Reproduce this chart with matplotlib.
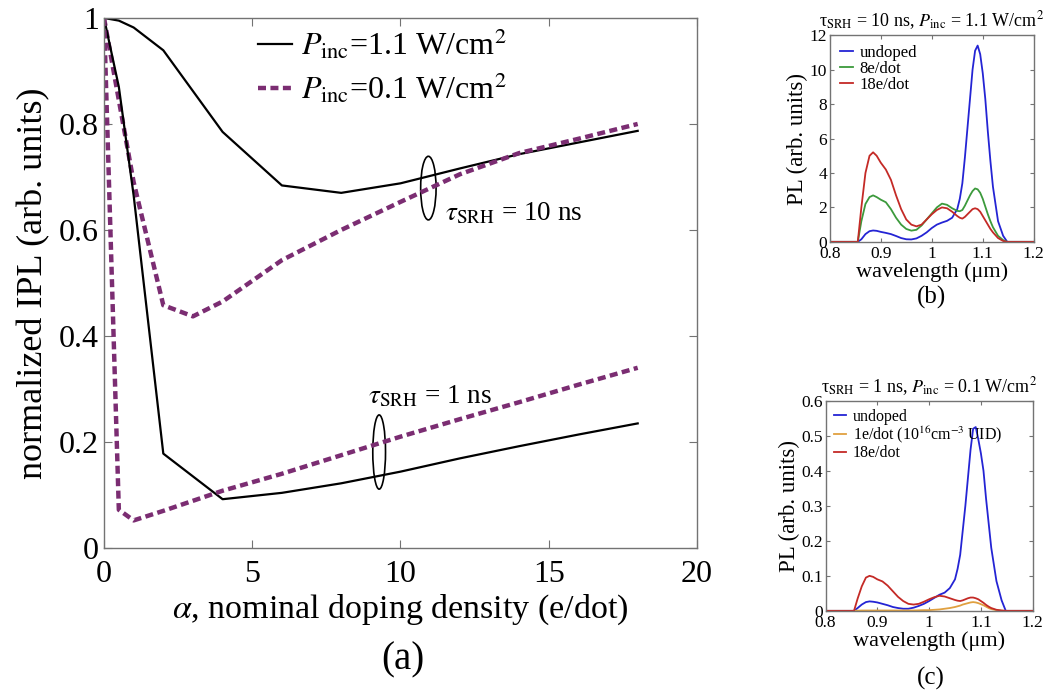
import matplotlib
matplotlib.use("Agg")
import matplotlib.pyplot as plt
from matplotlib.patches import Ellipse

plt.rcParams["font.family"] = ["Liberation Serif", "DejaVu Serif"]
plt.rcParams["mathtext.fontset"] = "stix"

# (a) 归一化积分 PL 随掺杂密度变化
alpha = [0, 0.5, 1, 2, 3, 4, 6, 8, 10, 12, 14, 16, 18]
ipl_10ns_high = [1, 0.995, 0.982, 0.939, 0.862, 0.785, 0.684, 0.67, 0.688, 0.716, 0.743, 0.765, 0.787]
ipl_10ns_low = [1, 0.845, 0.69, 0.458, 0.437, 0.465, 0.543, 0.6, 0.653, 0.705, 0.745, 0.772, 0.80]
ipl_1ns_high = [1, 0.87, 0.665, 0.178, 0.135, 0.092, 0.104, 0.122, 0.144, 0.169, 0.192, 0.214, 0.235]
ipl_1ns_low = [1, 0.072, 0.052, 0.07, 0.089, 0.108, 0.14, 0.175, 0.21, 0.243, 0.275, 0.308, 0.34]

# (b)/(c) PL 光谱
wavelength = [0.80, 0.85, 0.855, 0.862, 0.87, 0.878, 0.885, 0.892, 0.90, 0.91, 0.92, 0.93, 0.94,
              0.95, 0.96, 0.97, 0.98, 0.99, 1.00, 1.01, 1.02, 1.03, 1.04, 1.05, 1.055, 1.06, 1.065,
              1.07, 1.075, 1.08, 1.085, 1.09, 1.095, 1.10, 1.105, 1.11, 1.115, 1.12, 1.13, 1.14,
              1.148, 1.16, 1.20]
pl_b_undoped = [0, 0, 0, 0.15, 0.45, 0.62, 0.66, 0.64, 0.58, 0.52, 0.45, 0.34, 0.22,
                0.15, 0.14, 0.2, 0.35, 0.55, 0.8, 1.0, 1.12, 1.22, 1.4, 1.9, 2.5, 3.4, 4.9,
                6.6, 8.3, 10.0, 11.1, 11.4, 10.9, 9.8, 8.3, 6.4, 4.7, 3.2, 1.2, 0.35,
                0, 0, 0]
pl_b_8e = [0, 0, 0, 1.2, 2.2, 2.6, 2.7, 2.6, 2.45, 2.3, 1.9, 1.4, 1.0,
           0.75, 0.65, 0.7, 0.95, 1.3, 1.65, 2.0, 2.22, 2.15, 1.95, 1.8, 1.78, 1.85, 2.1,
           2.4, 2.7, 2.95, 3.1, 3.05, 2.85, 2.5, 2.05, 1.6, 1.2, 0.85, 0.35, 0.1,
           0, 0, 0]
pl_b_18e = [0, 0, 0, 2.0, 4.0, 5.0, 5.2, 5.0, 4.6, 4.2, 3.6, 2.7, 1.9,
            1.3, 1.0, 0.9, 1.0, 1.3, 1.6, 1.85, 2.0, 1.95, 1.75, 1.5, 1.4, 1.35, 1.45,
            1.6, 1.75, 1.9, 1.95, 1.9, 1.75, 1.5, 1.25, 1.0, 0.75, 0.55, 0.22, 0.05,
            0, 0, 0]
pl_c_undoped = [0, 0, 0, 0.008, 0.018, 0.025, 0.027, 0.026, 0.024, 0.02, 0.016, 0.011, 0.008,
                0.006, 0.006, 0.009, 0.014, 0.02, 0.028, 0.037, 0.046, 0.052, 0.065, 0.09, 0.12, 0.16, 0.23,
                0.3, 0.38, 0.46, 0.52, 0.525, 0.49, 0.45, 0.40, 0.32, 0.25, 0.18, 0.085, 0.03,
                0, 0, 0]
pl_c_1e = [0, 0, 0, 0.0005, 0.001, 0.001, 0.001, 0.001, 0.001, 0.001, 0.001, 0.001, 0.001,
           0.001, 0.001, 0.001, 0.0015, 0.002, 0.002, 0.003, 0.004, 0.006, 0.008, 0.011, 0.013, 0.015, 0.018,
           0.02, 0.022, 0.024, 0.025, 0.024, 0.022, 0.019, 0.016, 0.012, 0.008, 0.005, 0.002, 0.0005,
           0, 0, 0]
pl_c_18e = [0, 0, 0, 0.035, 0.07, 0.095, 0.1, 0.097, 0.09, 0.084, 0.072, 0.056, 0.04,
            0.028, 0.02, 0.018, 0.02, 0.026, 0.033, 0.039, 0.043, 0.041, 0.036, 0.031, 0.029, 0.028, 0.03,
            0.033, 0.036, 0.038, 0.038, 0.036, 0.033, 0.028, 0.023, 0.017, 0.012, 0.008, 0.003, 0.001,
            0, 0, 0]

purple = "#7b2d72"
blue = "#2424d4"
green = "#3c9a3c"
red = "#c42a26"
orange = "#e0a040"
spine_gray = "0.45"


def matlab_box(ax, tick_len):
    for s in ax.spines.values():
        s.set_color(spine_gray)
        s.set_linewidth(1.0)
    ax.tick_params(direction="in", top=True, right=True, length=tick_len,
                   color=spine_gray, width=0.8)


fig = plt.figure(figsize=(10.57, 6.91), dpi=100)

# ---- (a) ----
ax = fig.add_axes([0.0984, 0.207, 0.561, 0.767])
ax.plot(alpha, ipl_10ns_high, color="black", lw=1.6, label=r"$P_{\mathrm{inc}}$=1.1 W/cm$^2$")
ax.plot(alpha, ipl_10ns_low, color=purple, lw=3.2, dashes=(1.8, 1.0), label=r"$P_{\mathrm{inc}}$=0.1 W/cm$^2$")
ax.plot(alpha, ipl_1ns_high, color="black", lw=1.6)
ax.plot(alpha, ipl_1ns_low, color=purple, lw=3.2, dashes=(1.8, 1.0))
ax.add_patch(Ellipse((10.94, 0.679), 0.52, 0.12, fill=False, ec="black", lw=1.2))
ax.add_patch(Ellipse((9.28, 0.181), 0.43, 0.14, fill=False, ec="black", lw=1.2))
ax.text(11.5, 0.63, r"$\tau_{\mathrm{SRH}}$ = 10 ns", fontsize=19.5, va="center")
ax.text(8.9, 0.285, r"$\tau_{\mathrm{SRH}}$ = 1 ns", fontsize=19.5, va="center")
ax.set_xlim(0, 20)
ax.set_ylim(0, 1)
ax.set_xticks([0, 5, 10, 15, 20])
ax.set_yticks([0, 0.2, 0.4, 0.6, 0.8, 1])
ax.set_yticklabels(["0", "0.2", "0.4", "0.6", "0.8", "1"])
ax.tick_params(labelsize=23)
matlab_box(ax, 6)
ax.tick_params(axis="x", pad=9)
ax.set_xlabel(r"$\alpha$, nominal doping density (e/dot)", fontsize=24.5, labelpad=2)
ax.set_ylabel("normalized IPL (arb. units)", fontsize=26, labelpad=6)
ax.legend(loc="upper left", bbox_to_anchor=(0.222, 1.025), frameon=False, fontsize=23,
          handlelength=1.05, handletextpad=0.3, labelspacing=0.3, borderpad=0.2)
fig.text(0.381, 0.045, "(a)", fontsize=28, ha="center", va="center")

# ---- (b) ----
axb = fig.add_axes([0.785, 0.650, 0.193, 0.299])
axb.plot(wavelength, pl_b_undoped, color=blue, lw=1.3, label="undoped")
axb.plot(wavelength, pl_b_8e, color=green, lw=1.3, label="8e/dot")
axb.plot(wavelength, pl_b_18e, color=red, lw=1.3, label="18e/dot")
axb.set_xlim(0.8, 1.2)
axb.set_ylim(0, 12)
axb.set_xticks([0.8, 0.9, 1.0, 1.1, 1.2])
axb.set_xticklabels(["0.8", "0.9", "1", "1.1", "1.2"])
axb.set_yticks(range(0, 13, 2))
axb.tick_params(axis="x", labelsize=12.5, pad=3)
axb.tick_params(axis="y", labelsize=12.5, pad=2)
matlab_box(axb, 3)
axb.set_title(r"τ$_{\mathrm{SRH}}$ = 10 ns, $P_{\mathrm{inc}}$ = 1.1 W/cm$^2$", fontsize=13, pad=6)
axb.set_xlabel("wavelength (μm)", fontsize=16, labelpad=0)
axb.set_ylabel("PL (arb. units)", fontsize=16.5, labelpad=1)
axb.legend(loc="upper left", frameon=False, fontsize=12, handlelength=0.8,
           handletextpad=0.4, labelspacing=0.0, borderaxespad=0.2)
fig.text(0.881, 0.570, "(b)", fontsize=18, ha="center", va="center")

# ---- (c) ----
axc = fig.add_axes([0.781, 0.116, 0.196, 0.304])
axc.plot(wavelength, pl_c_undoped, color=blue, lw=1.3, label="undoped")
axc.plot(wavelength, pl_c_1e, color=orange, lw=1.3, label=r"1e/dot (10$^{16}$cm$^{-3}\;$UID)")
axc.plot(wavelength, pl_c_18e, color=red, lw=1.3, label="18e/dot")
axc.set_xlim(0.8, 1.2)
axc.set_ylim(0, 0.6)
axc.set_xticks([0.8, 0.9, 1.0, 1.1, 1.2])
axc.set_xticklabels(["0.8", "0.9", "1", "1.1", "1.2"])
axc.set_yticks([0, 0.1, 0.2, 0.3, 0.4, 0.5, 0.6])
axc.set_yticklabels(["0", "0.1", "0.2", "0.3", "0.4", "0.5", "0.6"])
axc.tick_params(labelsize=12.5, pad=2)
axc.tick_params(axis="x", pad=3)
matlab_box(axc, 3)
axc.set_title(r"τ$_{\mathrm{SRH}}$ = 1 ns, $P_{\mathrm{inc}}$ = 0.1 W/cm$^2$", fontsize=13, pad=6)
axc.set_xlabel("wavelength (μm)", fontsize=16, labelpad=0)
axc.set_ylabel("PL (arb. units)", fontsize=16.5, labelpad=1)
axc.legend(loc="upper left", frameon=False, fontsize=11.5, handlelength=0.8,
           handletextpad=0.4, labelspacing=0.0, borderaxespad=0.1)
fig.text(0.881, 0.018, "(c)", fontsize=18, ha="center", va="center")

fig.savefig("out.png", dpi=100)
